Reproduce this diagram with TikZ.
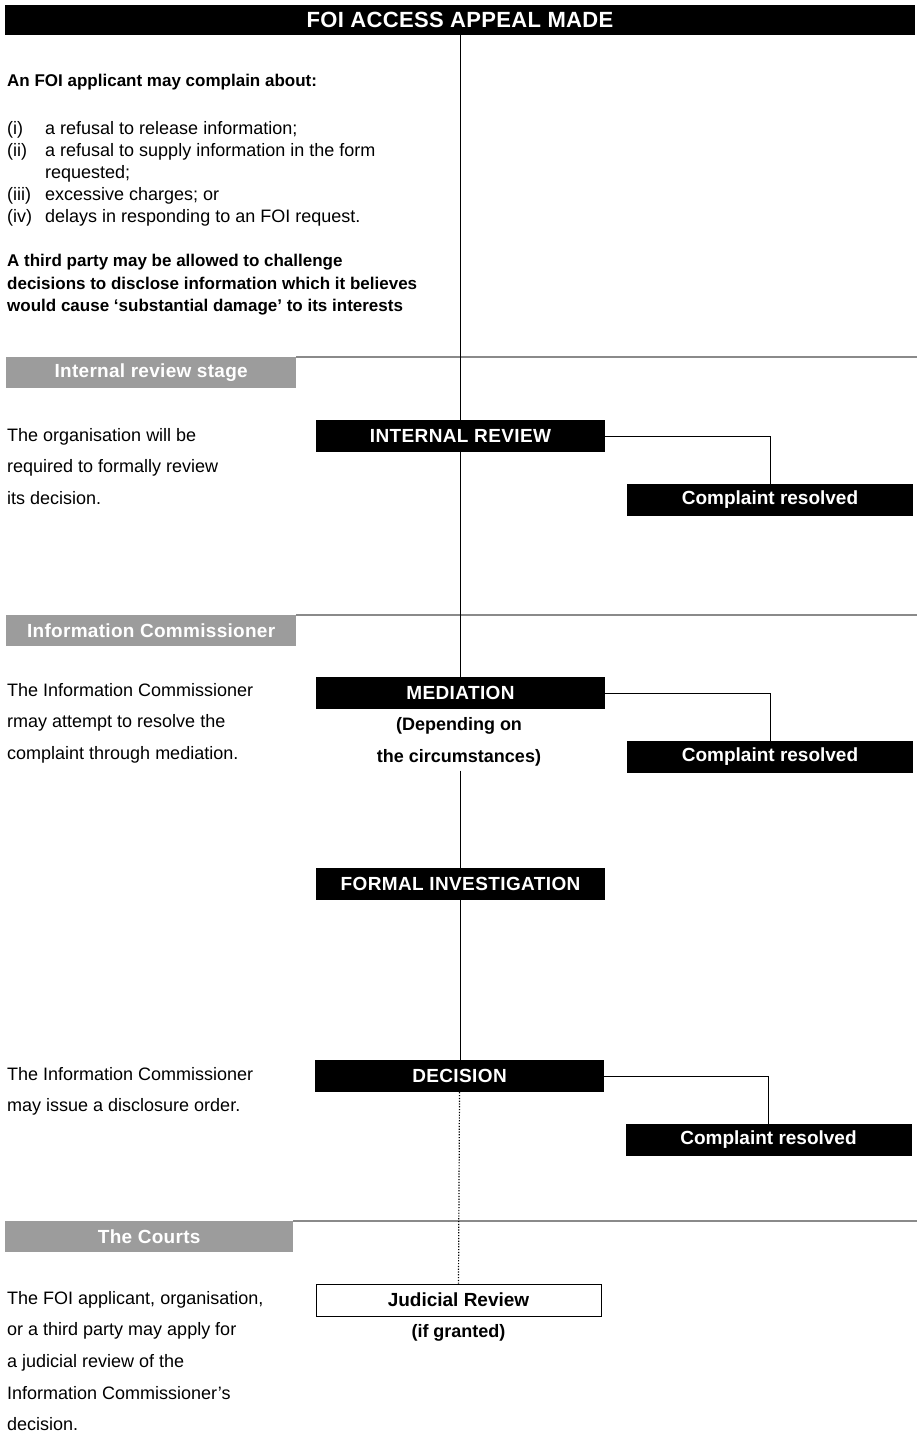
\documentclass[tikz,border=0pt]{standalone}
\usepackage{fontspec}
\setmainfont{Liberation Sans}
\newcommand\fz[2]{\fontsize{#1}{#2}\selectfont}
\definecolor{bannergrey}{HTML}{9C9C9C}
\definecolor{sepgrey}{HTML}{8A8A8A}
\begin{document}
\begin{tikzpicture}[x=1pt,y=-1pt,
  blackbox/.style={fill=black, text=white, font=\bfseries\fz{19}{22}\addfontfeature{LetterSpace=2}, minimum width=289pt, minimum height=32pt, inner sep=0pt},
  resolvedbox/.style={blackbox, font=\bfseries\fz{19}{22}, minimum width=286pt},
  whitebox/.style={fill=white, draw=black, line width=0.9pt, text=black, font=\bfseries\fz{19}{22}, minimum width=285pt, minimum height=32pt, inner sep=0pt},
  banner/.style={fill=bannergrey, text=white, font=\bfseries\fz{19}{22}\addfontfeature{LetterSpace=1.5}, minimum width=290pt, minimum height=31pt, inner sep=0pt, anchor=north west},
  sepline/.style={draw=sepgrey, line width=1.2pt},
  mainline/.style={line width=1.4pt},
  branch/.style={line width=1pt},
  bodytext/.style={font=\fz{18}{31.6}, align=left, anchor=north west, inner sep=0pt},
  listtext/.style={font=\fz{18}{22}, align=left, anchor=north west, inner sep=0pt},
  boldtext/.style={font=\bfseries\fz{17}{22.5}, align=left, anchor=north west, inner sep=0pt},
  subtext/.style={font=\bfseries\fz{18}{32}, align=center, inner sep=0pt},
]
\useasboundingbox (0,0) rectangle (922,1434);

% header
\node[fill=black, text=white, font=\bfseries\fz{22}{24}\addfontfeature{LetterSpace=1.5}, minimum width=910pt, minimum height=30pt, inner sep=0pt] (head) at (460,20) {FOI ACCESS APPEAL MADE};

% intro texts
\node[boldtext] (intro) at (7,74) {An FOI applicant may complain about:};
\node[listtext] (lablist) at (7,121) {(i)\\(ii)\\\mbox{}\\(iii)\\(iv)};
\node[listtext] (itemlist) at (45,121) {a refusal to release information;\\a refusal to supply information in the form\\requested;\\excessive charges; or\\delays in responding to an FOI request.};
\node[boldtext] (third) at (7,254) {A third party may be allowed to challenge\\decisions to disclose information which it believes\\would cause `substantial damage' to its interests};

% section separators and banners
\coordinate (s1r) at (917,357);
\coordinate (s2r) at (917,615);
\coordinate (s3r) at (917,1221);
\node[banner] (ban1) at (6,357) {Internal review stage};
\node[banner] (ban2) at (6,615) {Information Commissioner};
\node[banner, minimum width=288pt] (ban3) at (5,1221) {The Courts};
\draw[sepline] (ban1.north east) -- (s1r);
\draw[sepline] (ban2.north east) -- (s2r);
\draw[sepline] (ban3.north east) -- (s3r);

% section texts
\node[bodytext] (t1) at (7,428) {The organisation will be\\required to formally review\\its decision.};
\node[bodytext] (t2) at (7,683) {The Information Commissioner\\rmay attempt to resolve the\\complaint through mediation.};
\node[bodytext] (t3) at (7,1067) {The Information Commissioner\\may issue a disclosure order.};
\node[bodytext] (t4) at (7,1291) {The FOI applicant, organisation,\\or a third party may apply for\\a judicial review of the\\Information Commissioner's\\decision.};

% flow boxes
\node[blackbox] (ir) at (460.5,436) {INTERNAL REVIEW};
\node[resolvedbox] (irres) at (770,500) {Complaint resolved};
\node[blackbox] (med) at (460.5,693) {MEDIATION};
\node[subtext] (medsub) at (459,742) {(Depending on\\the circumstances)};
\node[resolvedbox] (medres) at (770,757) {Complaint resolved};
\node[blackbox] (fi) at (460.5,884) {FORMAL INVESTIGATION};
\node[blackbox] (dec) at (459.5,1076) {DECISION};
\node[resolvedbox] (decres) at (768.5,1140) {Complaint resolved};
\node[whitebox] (jr) at (458.5,1300) {Judicial Review};
\node[font=\bfseries\fz{18}{22}, inner sep=0pt] (jrsub) at (458.5,1333) {(if granted)};

% main flow lines
\coordinate (medlow) at ([yshift=-4pt]medsub.south -| fi.north);
\draw[mainline] (head.south -| ir.north) -- (ir.north);
\draw[mainline] (ir.south) -- (med.north);
\draw[mainline] (medlow) -- (fi.north);
\draw[mainline] (fi.south) -- (dec.north -| fi.south);
\draw[line width=1.2pt, dash pattern=on 1.2pt off 1.6pt] (dec.south) -- (jr.north);

% branches to resolved
\draw[branch] (ir.east) -| (irres.north);
\draw[branch] (med.east) -| (medres.north);
\draw[branch] (dec.east) -| (decres.north);
\end{tikzpicture}
\end{document}
